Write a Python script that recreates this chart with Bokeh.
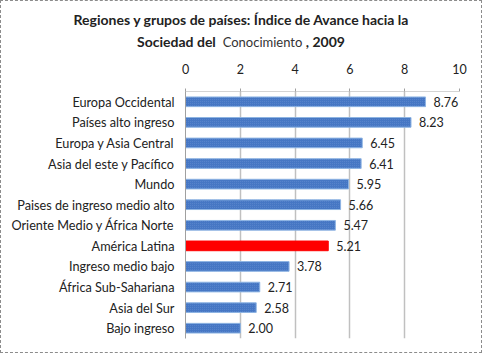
from bokeh.plotting import figure
from bokeh.models import ColumnDataSource, FactorRange, Div
from bokeh.layouts import column
from bokeh.core.properties import value
from bokeh.embed import file_html
from bokeh.resources import INLINE

title_line1 = "Regiones y grupos de países: Índice de Avance hacia la"
title_line2_a = "Sociedad del"
title_line2_b = "Conocimiento"
title_line2_c = ", 2009"

categories = ["Europa Occidental", "Países alto ingreso", "Europa y Asia Central",
              "Asia del este y Pacífico", "Mundo", "Paises de ingreso medio alto",
              "Oriente Medio y África Norte", "América Latina", "Ingreso medio bajo",
              "África Sub-Sahariana", "Asia del Sur", "Bajo ingreso"]
values = [8.76, 8.23, 6.45, 6.41, 5.95, 5.66, 5.47, 5.21, 3.78, 2.71, 2.58, 2.00]
highlight = "América Latina"
x_ticks = [0, 2, 4, 6, 8, 10]

FONT = "Lato"
colors = ["#FF0000" if c == highlight else "#4677C4" for c in categories]
lines = ["#FF0000" if c == highlight else "#8EB4E3" for c in categories]
hatch = [" " if c == highlight else "dot" for c in categories]
labels = ["%.2f" % v for v in values]

src = ColumnDataSource(dict(cat=categories, val=values, color=colors, line=lines,
                            hatch=hatch, label=labels))

title_html = (
    f'<div style="width:480px;text-align:center;font-family:{FONT};font-size:14px;'
    f'font-weight:bold;color:#222;line-height:22px;padding-top:8px;">'
    f'{title_line1}<br>{title_line2_a}&nbsp;&nbsp;'
    f'<span style="font-weight:normal;font-size:13px;color:#333;">'
    f'{title_line2_b}</span>&nbsp;{title_line2_c}</div>'
)
title_div = Div(text=title_html, width=480, height=51, margin=(0, 0, 0, 0))

p = figure(width=480, height=300, output_backend="svg", toolbar_location=None,
           y_range=FactorRange(*reversed(categories)), x_range=(0, 10),
           x_axis_location="above",
           min_border_left=184, min_border_right=22, min_border_bottom=14,
           min_border_top=39, margin=(0, 0, 0, 0))

p.hbar(y="cat", right="val", left=0, height=0.47, source=src,
       fill_color="color", line_color="line", line_width=1,
       hatch_pattern="hatch", hatch_color="#6E98D8", hatch_scale=2, hatch_alpha=0.5)

p.text(x="val", y="cat", text="label", source=src, x_offset=8,
       text_baseline="middle", text_align="left",
       text_font=value(FONT), text_font_size="12.5px", text_color="#222222")

p.xaxis.ticker = x_ticks
p.xaxis.axis_line_color = "#A8A8A8"
p.xaxis.axis_line_dash = "1 1"
p.xaxis.major_tick_line_color = "#A0A0A0"
p.xaxis.major_tick_out = 3
p.xaxis.major_tick_in = 0
p.xaxis.minor_tick_line_color = None
p.xaxis.major_label_text_font = FONT
p.xaxis.major_label_text_font_size = "12.5px"
p.xaxis.major_label_text_color = "#222222"
p.xaxis.major_label_standoff = 15

p.yaxis.axis_line_color = "#A0A0A0"
p.yaxis.major_tick_line_color = None
p.yaxis.major_tick_out = 0
p.yaxis.major_tick_in = 0
p.yaxis.minor_tick_line_color = None
p.yaxis.major_label_text_font = FONT
p.yaxis.major_label_text_font_size = "12.7px"
p.yaxis.major_label_text_color = "#222222"
p.yaxis.major_label_standoff = 11

p.xgrid.grid_line_color = "#C0C0C0"
p.xgrid.grid_line_width = 1.5
p.ygrid.grid_line_color = None
p.outline_line_color = None
p.background_fill_color = "white"
p.border_fill_color = "white"

layout = column(title_div, p, spacing=0, margin=(0, 0, 0, 0),
                styles={"border": "1px dashed #8C8C8C", "background": "white"})

open("out.html", "w").write(file_html(layout, INLINE))
